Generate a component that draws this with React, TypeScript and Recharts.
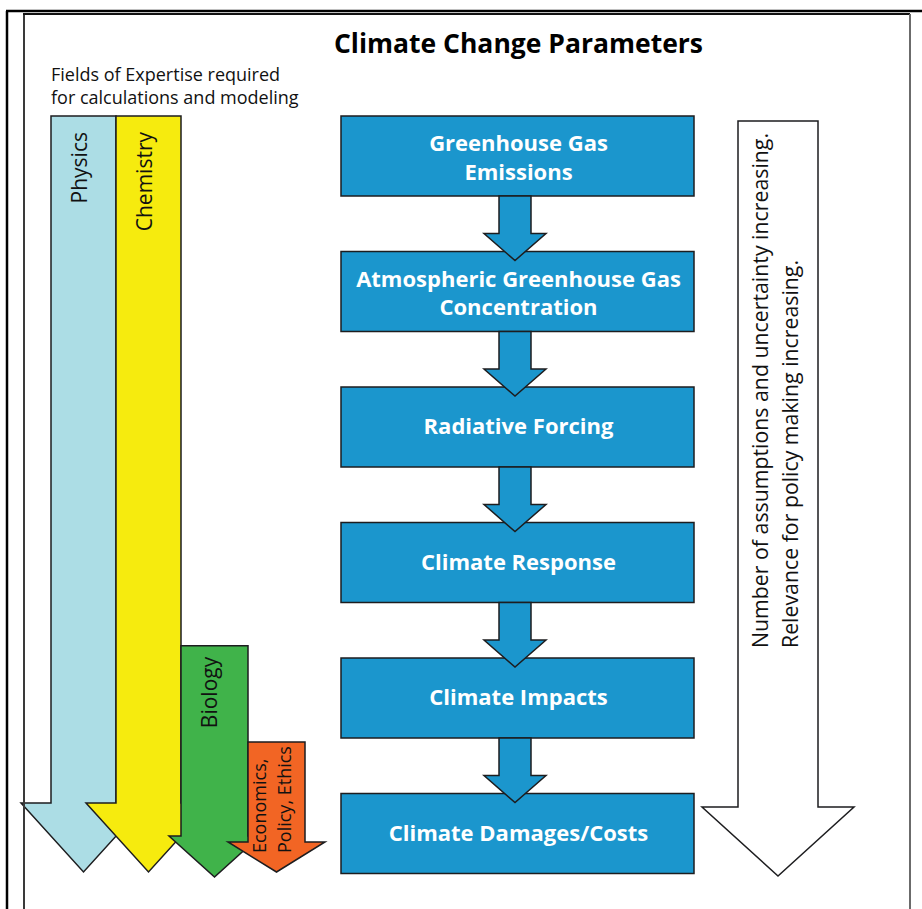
import type { ReactElement } from 'react';
import { ComposedChart, ReferenceArea, ReferenceLine, XAxis, YAxis } from 'recharts';

// ---- content ----
const title = 'Climate Change Parameters';
const subtitleLines = ['Fields of Expertise required', 'for calculations and modeling'];

const stepLines = [
  ['Greenhouse Gas', 'Emissions'],
  ['Atmospheric Greenhouse Gas', 'Concentration'],
  ['Radiative Forcing'],
  ['Climate Response'],
  ['Climate Impacts'],
  ['Climate Damages/Costs'],
];

const fieldLines = [['Physics'], ['Chemistry'], ['Biology'], ['Economics,', 'Policy, Ethics']];
// step (0 = emissions) from which each field is needed
const fieldFromStep = [0, 0, 3.91, 4.62];

const trendLines = [
  'Number of assumptions and uncertainty increasing.',
  'Relevance for policy making increasing.',
];

// ---- layout (diagram units, same size as the picture) ----
const W = 922;
const H = 909;
const FONT = '"Open Sans", sans-serif';
const OUTLINE = '#1d1d1f';
const BOX_FILL = '#1b96cd';
const FIELD_COLORS = ['#acdde5', '#f6eb0e', '#40b34a', '#f26524'];

const BOX = { x1: 341, x2: 694, top: 116, pitch: 135.5, h: 80 };
const LINK = { cx: 515, shaft: 16, head: 31, above: 18, into: 9 };
const FIELD_SHAPE = [
  { x1: 51, x2: 116, out: 30, base: 803, tip: 872 },
  { x1: 116, x2: 181, out: 30, base: 803, tip: 872 },
  { x1: 181, x2: 248, out: 12, base: 836, tip: 877 },
  { x1: 248, x2: 305, out: 20, base: 842, tip: 872 },
];
const FIELD_LABEL = [
  { lx: [87], anchor: 'end', at: 16, size: 21 },
  { lx: [152], anchor: 'end', at: 16, size: 21 },
  { lx: [217], anchor: 'end', at: 11, size: 21 },
  { lx: [266, 291], anchor: 'start', at: -19, size: 18 },
];
const TREND = { x1: 738, x2: 818, out: 36, top: 121, base: 807, tip: 876, lx: [768, 798], ly: 648 };

const FRAME = [
  { x1: 7, y1: 11, x2: 7, y2: H, stroke: '#000', w: 2.5 },
  { x1: 6, y1: 11, x2: W, y2: 11, stroke: '#000', w: 2.5 },
  { x1: 24, y1: 14, x2: 24, y2: H, stroke: '#3a3a3a', w: 2 },
  { x1: 23, y1: 14, x2: 910, y2: 14, stroke: '#111', w: 2 },
  { x1: 910, y1: 14, x2: 910, y2: H, stroke: '#6b6b6b', w: 2 },
];

const stepTop = (s: number) => BOX.top + BOX.pitch * s;
const stepRows = stepLines.map((lines, i) => ({ step: i, label: lines.join(' ') }));

type Rect = { x: number; y: number; width: number; height: number };
type Box = { x1: number; x2: number; y1: number; y2: number };
type Mapper = { X: (u: number) => number; Y: (v: number) => number; k: number };

// units -> pixels inside the rect Recharts computed for an area
const mapper = (p: Rect, a: Box): Mapper => {
  const kx = p.width / (a.x2 - a.x1);
  const ky = p.height / (a.y2 - a.y1);
  return { X: (u) => p.x + (u - a.x1) * kx, Y: (v) => p.y + (v - a.y1) * ky, k: ky };
};

const area = (key: string, a: Box, draw: (m: Mapper, p: Rect) => ReactElement) => (
  <ReferenceArea
    key={key}
    x1={a.x1}
    x2={a.x2}
    y1={a.y1}
    y2={a.y2}
    ifOverflow="visible"
    shape={(p: any) => draw(mapper(p, a), p)}
  />
);

// down arrow filling the box a: shaft inset by `out`, head of height headH
const arrowPts = (m: Mapper, a: Box, out: number, headH: number) => {
  const cx = (a.x1 + a.x2) / 2;
  const base = a.y2 - headH;
  const pts = [
    [a.x1 + out, a.y1],
    [a.x2 - out, a.y1],
    [a.x2 - out, base],
    [a.x2, base],
    [cx, a.y2],
    [a.x1, base],
    [a.x1 + out, base],
  ];
  return pts.map(([u, v]) => `${m.X(u)},${m.Y(v)}`).join(' ');
};

const vText = (key: string, x: number, y: number, t: string, anchor: string, size: number) => (
  <text
    key={key}
    x={x}
    y={y}
    transform={`rotate(-90 ${x} ${y})`}
    textAnchor={anchor as any}
    fontFamily={FONT}
    fontSize={size}
    fill="#111"
  >
    {t}
  </text>
);

export default function App() {
  return (
    <div style={{ position: 'absolute', left: 0, top: 0, background: '#fff' }}>
      <ComposedChart
        width={W}
        height={H}
        data={stepRows}
        margin={{ top: 0, right: 0, bottom: 0, left: 0 }}
      >
        <XAxis type="number" dataKey="step" scale="linear" domain={[0, W]} hide allowDataOverflow />
        <YAxis
          type="number"
          dataKey="step"
          scale="linear"
          domain={[0, H]}
          reversed
          hide
          allowDataOverflow
        />

        {FRAME.map((f, i) => (
          <ReferenceLine
            key={`frame-${i}`}
            segment={[
              { x: f.x1, y: f.y1 },
              { x: f.x2, y: f.y2 },
            ]}
            stroke={f.stroke}
            strokeWidth={f.w}
            ifOverflow="visible"
          />
        ))}

        {area('header', { x1: 40, x2: 720, y1: 20, y2: 110 }, (m) => (
          <g>
            <text
              x={m.X(518.5)}
              y={m.Y(52.5)}
              textAnchor="middle"
              fontFamily={FONT}
              fontWeight={700}
              fontSize={26.5}
              fill="#000"
            >
              {title}
            </text>
            {subtitleLines.map((t, i) => (
              <text key={i} x={m.X(51)} y={m.Y(81 + 23 * i)} fontFamily={FONT} fontSize={18} fill="#111">
                {t}
              </text>
            ))}
          </g>
        ))}

        {stepLines.map((lines, i) => {
          const top = stepTop(i);
          const a = { x1: BOX.x1, x2: BOX.x2, y1: top, y2: top + BOX.h };
          return area(`step-${i}`, a, (m, p) => {
            const cx = p.x + p.width / 2 + 1;
            const cy = p.y + p.height / 2;
            const base = lines.length === 1 ? [cy + 7 * m.k] : [cy - 5 * m.k, cy + 23.5 * m.k];
            return (
              <g>
                <rect
                  x={p.x}
                  y={p.y}
                  width={p.width}
                  height={p.height}
                  fill={BOX_FILL}
                  stroke={OUTLINE}
                  strokeWidth={1.5}
                />
                {lines.map((t, j) => (
                  <text
                    key={j}
                    x={cx}
                    y={base[j]}
                    textAnchor="middle"
                    fontFamily={FONT}
                    fontWeight={700}
                    fontSize={22}
                    fill="#fff"
                  >
                    {t}
                  </text>
                ))}
              </g>
            );
          });
        })}

        {stepLines.slice(1).map((_, i) => {
          const a = {
            x1: LINK.cx - LINK.head,
            x2: LINK.cx + LINK.head,
            y1: stepTop(i) + BOX.h,
            y2: stepTop(i + 1) + LINK.into,
          };
          return area(`link-${i}`, a, (m) => (
            <polygon
              points={arrowPts(m, a, LINK.head - LINK.shaft, LINK.above + LINK.into)}
              fill={BOX_FILL}
              stroke={OUTLINE}
              strokeWidth={1.5}
              strokeLinejoin="miter"
            />
          ));
        })}

        {fieldLines.map((lines, i) => {
          const s = FIELD_SHAPE[i];
          const lab = FIELD_LABEL[i];
          const top = stepTop(fieldFromStep[i]);
          const a = { x1: s.x1 - s.out, x2: s.x2 + s.out, y1: top, y2: s.tip };
          return area(`field-${i}`, a, (m) => {
            const ly = lab.anchor === 'end' ? top + lab.at : s.tip + lab.at;
            return (
              <g>
                <polygon
                  points={arrowPts(m, a, s.out, s.tip - s.base)}
                  fill={FIELD_COLORS[i]}
                  stroke={OUTLINE}
                  strokeWidth={1.5}
                />
                {lines.map((t, j) => vText(`${j}`, m.X(lab.lx[j]), m.Y(ly), t, lab.anchor, lab.size))}
              </g>
            );
          });
        })}

        {(() => {
          const a = { x1: TREND.x1 - TREND.out, x2: TREND.x2 + TREND.out, y1: TREND.top, y2: TREND.tip };
          return area('trend', a, (m) => (
            <g>
              <polygon
                points={arrowPts(m, a, TREND.out, TREND.tip - TREND.base)}
                fill="#fff"
                stroke={OUTLINE}
                strokeWidth={1.5}
              />
              {trendLines.map((t, j) => vText(`${j}`, m.X(TREND.lx[j]), m.Y(TREND.ly), t, 'start', 21.3))}
            </g>
          ));
        })()}
      </ComposedChart>
    </div>
  );
}
